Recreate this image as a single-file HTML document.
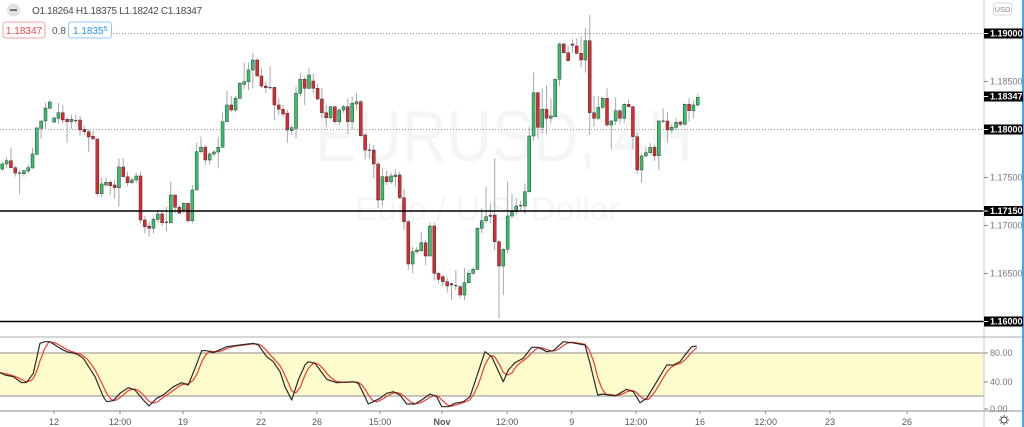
<!DOCTYPE html>
<html><head><meta charset="utf-8">
<style>
html,body{margin:0;padding:0;background:#fff;width:1024px;height:427px;overflow:hidden}
svg{position:absolute;left:0;top:0;font-family:"Liberation Sans",sans-serif}
</style></head><body>
<svg id="s" width="1024" height="427" viewBox="0 0 1024 427" xmlns="http://www.w3.org/2000/svg">
<rect x="0" y="0" width="1024" height="427" fill="#fff"/>
<!-- watermark -->
<text x="315" y="161" font-size="72" fill="#f5f5f5" textLength="378" lengthAdjust="spacingAndGlyphs">EURUSD, 4H</text>
<text x="355" y="220" font-size="32" fill="#f5f5f5" textLength="265" lengthAdjust="spacingAndGlyphs">Euro / U.S. Dollar</text>
<!-- dotted grid lines -->
<line x1="113" y1="33.5" x2="984" y2="33.5" stroke="#9a9a9a" stroke-width="1" stroke-dasharray="1,2"/>
<line x1="0" y1="129.5" x2="984" y2="129.5" stroke="#9a9a9a" stroke-width="1" stroke-dasharray="1,2"/>
<g id="candles"></g>
<!-- solid horizontal lines -->
<line x1="0" y1="211" x2="984" y2="211" stroke="#000" stroke-width="1.6"/>
<line x1="0" y1="321.5" x2="984" y2="321.5" stroke="#000" stroke-width="1.6"/>
<!-- pane separator -->
<rect x="0" y="336" width="1024" height="2" fill="#d6d6d6"/>
<!-- stochastic band -->
<rect x="0" y="353" width="984" height="43" fill="#fefccc"/>
<line x1="0" y1="353" x2="984" y2="353" stroke="#8c8c8c" stroke-width="1"/>
<line x1="0" y1="396" x2="984" y2="396" stroke="#8c8c8c" stroke-width="1"/>
<g id="stoch"></g>
<!-- bottom axis line -->
<line x1="0" y1="411" x2="1024" y2="411" stroke="#8c8c8c" stroke-width="1"/>
<!-- price scale -->
<line x1="984" y1="0" x2="984" y2="427" stroke="#c8c8c8" stroke-width="1"/>
<rect x="1022" y="0" width="2" height="427" fill="#4aa3f0"/>
<rect x="993.5" y="3" width="18" height="12" rx="2" fill="#fff" stroke="#d8d8d8"/>
<text x="1002.5" y="12" font-size="7.5" fill="#888" text-anchor="middle">USD</text>
<g id="scale" font-size="9"></g>
<!-- gear -->
<g transform="translate(1004,420)" stroke="#555" fill="none" stroke-width="1">
<circle r="3"/>
<line x1="0" y1="-5" x2="0" y2="-3.5"/><line x1="0" y1="5" x2="0" y2="3.5"/>
<line x1="-5" y1="0" x2="-3.5" y2="0"/><line x1="5" y1="0" x2="3.5" y2="0"/>
<line x1="-3.5" y1="-3.5" x2="-2.5" y2="-2.5"/><line x1="3.5" y1="3.5" x2="2.5" y2="2.5"/>
<line x1="-3.5" y1="3.5" x2="-2.5" y2="2.5"/><line x1="3.5" y1="-3.5" x2="2.5" y2="-2.5"/>
</g>
<g id="time" font-size="9" fill="#555"></g>
<!-- legend -->
<circle cx="13.5" cy="10" r="6.5" fill="#e1e1e1"/>
<rect x="10" y="9.2" width="7" height="1.8" fill="#666"/>
<text x="32" y="14" font-size="10" fill="#4a4a4a" textLength="170" lengthAdjust="spacing">O1.18264 H1.18375 L1.18242 C1.18347</text>
<rect x="3" y="22" width="42" height="16" rx="3" fill="#fff" stroke="#f2a0a0"/>
<text x="24" y="34" font-size="10" fill="#ef4444" text-anchor="middle">1.18347</text>
<text x="52" y="34" font-size="10" fill="#555">0.8</text>
<rect x="68.5" y="22" width="43" height="16" rx="3" fill="#fff" stroke="#8fc8f5"/>
<text x="73" y="34" font-size="10" fill="#2196f3">1.1835<tspan font-size="7" dy="-3">5</tspan></text>
</svg>
<script>
(function(){
var NS="http://www.w3.org/2000/svg";
function el(t,a,p){var e=document.createElementNS(NS,t);for(var k in a)e.setAttribute(k,a[k]);p.appendChild(e);return e;}
var C=[
['g',164,169,162,171],['g',160.7,164,157,168],['r',160.7,167.7,147.7,168],['r',167.7,173,165.7,176.7],['n',172.5,173.5,170,194],
['g',170.7,173.7,170,176.7],['g',167.7,171,165,173.3],['g',154,168,148,168.3],['g',128,154.3,126.7,155],['g',121,128.3,121,139],
['g',108,121,103,130],['g',102,108.3,100.3,108.7],['g',118,122,116.7,123.3],['g',112.7,118.3,103,123.3],['r',112.7,120,105,123.3],
['r',119.3,121.7,117,142.7],['g',119.3,121.7,114.7,129],['n',120,121,115,123.3],['r',120,130,116,135.7],['r',129.3,131.7,126,135],
['r',131.7,137,129.3,151.7],['r',136.3,139,131,139],['r',139,193.7,139,196.7],['g',184,193.7,177.7,197.3],['g',182.3,185,177.3,186.7],
['r',182.3,185.7,180,194.7],['r',185,187.7,180,198.7],['g',167,187.7,158.3,206.7],['r',167,176.7,158.3,177],['r',176.7,182.7,171.7,186],
['g',180,182.7,177.7,184.3],['g',176,180,172.7,182.7],['r',176,220,171.7,223.3],['r',220,226.7,216,233.3],['r',226,228.3,221.7,236.7],
['g',219.3,228.3,216.7,233.3],['g',214,219.3,210,222.7],['r',214,222.7,211.7,226],['n',221.7,222.7,206.7,231.7],['g',195,222.7,181.7,223.3],
['r',195,207.3,195,213.3],['r',207.3,213.3,205,214],['g',203.3,210,202.3,213.3],['r',203.3,220.7,202.7,222.7],['g',190,220.7,185,223.3],
['g',151.7,190,142.7,190],['g',147.3,151.7,136.7,153.3],['r',147.3,160,145,165],['g',154,160,151.7,164],['g',152,154,150,156.7],
['g',147.3,152,136.7,168.3],['g',121.7,147.3,112.7,147.3],['g',105,121.7,90.7,121.7],['r',105,110,96,111.7],['g',98.3,110,95.7,111.7],
['g',83.3,98.3,81.7,99.3],['g',81.7,84.3,62.7,89.3],['g',70,81.7,62.7,90],['g',60,70,53.3,88.3],['r',60,76,58.3,76.7],
['r',76,86,68.3,88.3],['r',86,87.7,81.7,93.3],['n',87,88,66,89.3],['r',87.3,105,86.7,120],['r',105,109.3,98.3,115],
['r',109.3,114,105,116.7],['r',113.3,130,110,142.7],['g',127.7,130.7,125,135],['g',93.3,128.3,86.7,138.3],['g',79.3,93.3,72.7,96.7],
['r',79.3,88.3,76.7,105],['g',75,88.3,68.3,89.3],['r',81,88.3,73.3,93.3],['r',88.3,99,83.3,100],['r',99,112.7,88.3,118.3],
['r',112.7,117.7,105,127.3],['g',106.7,117.7,106,119.3],['r',106.7,121.7,106,124],['g',110,121.7,108.3,125],['g',106.7,110,105,112.7],
['r',106.7,121.7,98.3,134],['g',103.3,121.7,96.7,130],['g',101.7,104,93.3,110],['r',101.7,135.7,100,136.7],['r',135,150,133.3,159.3],
['n',149.5,150.5,143.3,158.3],['r',150,164,145,178.3],['r',164,200,161.7,208.3],['g',176.7,200,168.3,206],['r',176.7,181.7,170.7,185],
['g',176,181.7,172.7,184],['g',175,176.7,169.3,186.7],['r',175,197.7,171.7,199.3],['r',197.7,221.7,189.3,230],['r',221.7,264,220,270],
['g',251.7,264,246.7,273.3],['g',250,251.7,246.7,254],['g',242.7,250.7,231.7,251.7],['r',242.7,256,240,265],['g',226,256,222.7,256.7],
['r',226,273.3,222.7,280.7],['r',273.3,279.3,271.7,283.3],['r',276.7,281.7,275,286],['r',281.7,286,277.3,292.7],['n',283.3,285.3,282.7,300],
['n',285,286,270,290],['r',286.7,295,285,298.3],['g',282.7,295,268,300],['g',273.3,282.7,270,283.3],
['g',269.3,273.3,266.7,275],['g',228.3,269.3,227.3,270],['g',220.7,228.3,208.3,233.3],['g',216.7,220.7,186.7,223.3],['n',215,216.7,203.3,223.3],
['r',215,241.7,158.3,250],['r',241.7,266,240,318.3],['g',249.3,266,248.3,295],['g',216,249.3,181.7,253.3],['g',211.7,216,193.3,218.3],
['g',206,211.7,198.3,215],['n',205,206,200.7,210],['g',191.7,206,183.3,214],['g',136,191.7,126.7,192.7],['g',92.7,136,72.7,140.7],
['r',92.7,127.3,91.7,138.3],['g',109.3,127.3,88.3,133.3],['r',109.3,118.3,85,134],['g',116,118.3,98.3,123.3],['g',79.3,116.7,78.3,117.3],
['g',44,79.3,42.7,86],['r',44,52.7,42.7,53.3],['r',52.7,60.7,46,61.7],['r',44,45.3,39.3,53.3],['r',46,53.3,38.3,54.3],
['r',53.3,60,36,67.3],['g',40.7,60,28.3,72.7],['r',40.7,112.7,15,135],['r',112.7,118.3,96,126.7],['g',107.3,118.3,96,120],
['g',98.3,107.3,96.7,109.3],['r',98.3,125,88.3,126.7],['g',121,125,120,149.3],['g',110.7,121,97.3,125],['r',110.7,118.3,109.3,123.3],
['g',104.3,118.3,103.3,122.7],['r',104.3,106.7,99.3,107.3],['r',106.7,136.7,106,149.3],['r',136.7,170,132.7,174],['g',156,170,153.3,182.7],
['g',152.7,156,147.3,156.7],['g',147.3,152.7,142.7,154],['r',147.3,155.7,145,160.7],['g',121,155.7,120,170],['n',120.5,121.5,108.3,123.3],
['r',121,130,111.7,142.7],['g',127.3,130,124,133.3],['g',122.3,127.3,118.3,130.7],['r',122,124.3,121,126],['g',104.3,124.3,103.3,125],
['r',104.3,110.7,98.3,121.7],['g',105,110.7,100,118.3],['g',97.3,105,94,106.7]
];
var g=document.getElementById('candles');
var n=C.length, sp=(697.7-2.3)/(n-1);
for(var i=0;i<n;i++){
 var c=C[i], x=2.3+i*sp;
 el('rect',{x:(x-0.5).toFixed(2),y:c[3],width:1,height:(c[4]-c[3]).toFixed(2),fill:'#a8a8a8'},g);
 var h=Math.max(1,c[2]-c[1]);
 if(c[0]=='n'){
  el('rect',{x:(x-1.6).toFixed(2),y:c[1],width:3.2,height:Math.max(1.2,h),fill:'#4a4a4a'},g);
 } else {
  el('rect',{x:(x-1.5).toFixed(2),y:c[1],width:3,height:h.toFixed(2),fill:c[0]=='g'?'#2fc46a':'#e3262c',stroke:'#3a3a3a','stroke-width':0.5},g);
 }
}
// stochastic
var K=[[0,372.7],[5,375],[13.3,376.7],[21.7,382.7],[26.7,382.3],[33.3,373.3],[40,343.3],[45,341.7],[50,341.7],[55,345],[60,348.3],[66.7,351.7],[76.7,354],[83.3,358.3],[95,376.7],[103.3,396.7],[106.7,401.7],[113.3,400.7],[120,393.3],[128.3,387.7],[135,390],[143.3,400],[149,406],[156.7,398.3],[163.3,395],[173.3,386.7],[181.7,382.7],[188.3,385],[195,368.3],[201.7,350.7],[206.7,350.7],[213.3,352.7],[226.7,346.7],[240,345],[253.3,343.3],[258.3,345],[266.7,356.7],[273.3,361.7],[280,371.7],[285,386.7],[291.7,400],[298.3,380],[305,365],[308.3,361.7],[315,363.3],[320,370],[326.7,379.3],[336.7,382.7],[353.3,381.7],[358.3,383.3],[363.3,393.3],[368.3,404],[373.3,401.7],[380,398.3],[386.7,393.3],[393.3,391.7],[400,395],[406.7,404],[415,404],[421.7,400],[430,394],[436.7,396.7],[441.7,406.7],[448.3,406.7],[455,403.3],[463.3,401.7],[470,396.7],[476.7,376.7],[485,351.7],[491.7,356.7],[503.3,381.7],[508.3,370],[515,362.7],[523.3,358.3],[531.7,347.3],[538.3,347.3],[546.7,351.7],[553.3,350.7],[563.3,341.7],[571.7,342.7],[585,345],[590,363.3],[597.7,395],[603.3,394],[615,396],[626.7,389.3],[633.3,391.7],[640,402.7],[646.7,398.3],[656.7,381.7],[666.7,365],[673.3,365],[680,361.7],[685,355],[691.7,346.7],[696.7,346]];
function kAt(x){if(x<=K[0][0])return K[0][1];for(var j=1;j<K.length;j++){if(x<=K[j][0]){var a=K[j-1],b=K[j];return a[1]+(b[1]-a[1])*(x-a[0])/(b[0]-a[0]);}}return K[K.length-1][1];}
var dp=[];
for(var x=0;x<=697.5;x+=1){var d=(kAt(x)+kAt(x-4.3)+kAt(x-8.6))/3;dp.push(x+','+d.toFixed(2));}
var sg=document.getElementById('stoch');
el('polyline',{points:dp.join(' '),fill:'none',stroke:'#f23b30','stroke-width':1.2,'stroke-linejoin':'round'},sg);
el('polyline',{points:K.map(function(p){return p[0]+','+p[1]}).join(' '),fill:'none',stroke:'#2a2a2a','stroke-width':1.2,'stroke-linejoin':'round'},sg);
// price scale
var sc=document.getElementById('scale');
var P=[['1.18500',81.5,0],['1.17500',177.5,0],['1.17000',225.5,0],['1.16500',273.5,0],['80.00',353,0],['40.00',382,0],['0.00',409,0],
['1.19000',33.5,1],['1.18347',96.5,1],['1.18000',129.5,1],['1.17150',211,1],['1.16000',321.5,1]];
P.forEach(function(p){
 if(p[2]){el('rect',{x:984,y:p[1]-5,width:39,height:10,fill:'#000'},sc);}
 el('line',{x1:984,y1:p[1],x2:988,y2:p[1],stroke:p[2]?'#fff':'#888','stroke-width':1},sc);
 var t=el('text',{x:990,y:p[1]+3.2,fill:p[2]?'#fff':'#777','font-weight':p[2]?'bold':'normal'},sc);
 t.textContent=p[0];
});
// time axis
var tg=document.getElementById('time');
[[54,'12'],[120,'12:00'],[183,'19'],[261,'22'],[317,'26'],[380,'15:00'],[442,'Nov'],[507,'12:00'],[571.7,'9'],[636,'12:00'],[700,'16'],[765.7,'12:00'],[830,'23'],[907,'26']].forEach(function(t){
 el('line',{x1:t[0],y1:411,x2:t[0],y2:414,stroke:'#888','stroke-width':1},tg);
 var e=el('text',{x:t[0],y:425,'text-anchor':'middle','font-weight':t[1]=='Nov'?'bold':'normal'},tg);
 e.textContent=t[1];
});
})();
</script>
</body></html>
